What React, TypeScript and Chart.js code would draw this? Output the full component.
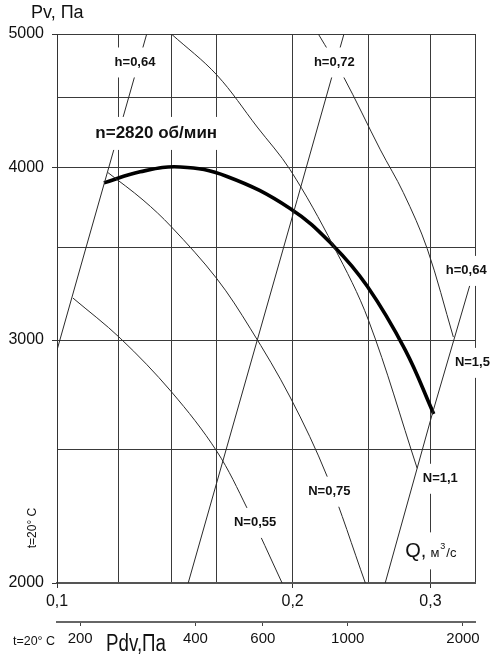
import React, { useEffect, useRef } from 'react';
import { Chart, registerables } from 'chart.js';

Chart.register(...registerables);

const FONT = '"Liberation Sans", Arial, Helvetica, sans-serif';

// ---- axes ----
const qMin = 0.1;
const qMax = 0.342;
const qGridValues = [0.1, 0.12, 0.14, 0.16, 0.2, 0.25, 0.3, 0.342];
const qLabelValues = [0.1, 0.2, 0.3];
const pMin = 2000;
const pMax = 5000;
const pGridValues = [2000, 2500, 3000, 3500, 4000, 4500, 5000];
const pLabelValues = [2000, 3000, 4000, 5000];
const pdvMin = 174;
const pdvMax = 2150;
const pdvTickValues = [200, 400, 600, 1000, 2000];

// ---- fan curve n = 2820 rpm ----
const fanQ = [0.1148, 0.1277, 0.1437, 0.1649, 0.1985, 0.2254, 0.249, 0.2786, 0.3029];
const fanP = [3900, 3973, 4005, 3942, 3737, 3512, 3283, 2950, 2652];

// ---- efficiency lines ----
const h064LeftQ = [0.1, 0.1089, 0.1302];
const h064LeftP = [2950, 3500, 5000];
const h072Q = [0.1471, 0.2027, 0.2326];
const h072P = [2000, 3792, 5000];
const h064RightQ = [0.2626, 0.3024, 0.3375];
const h064RightP = [2000, 2666, 3300];

// ---- power lines ----
const n055Q = [0.1048, 0.1204, 0.14, 0.16, 0.175, 0.1939];
const n055P = [3218, 3010, 2752, 2492, 2265, 2000];
const n075Q = [0.1162, 0.1288, 0.14, 0.16, 0.1765, 0.1985, 0.2214, 0.2477];
const n075P = [3967, 3790, 3624, 3324, 3060, 2728, 2389, 2000];
const n11Q = [0.14, 0.16, 0.1802, 0.1985, 0.2254, 0.25, 0.2885];
const n11P = [5000, 4670, 4281, 3987, 3512, 3101, 2422];
const n15Q = [0.2157, 0.2321, 0.2589, 0.277, 0.2971, 0.3209];
const n15P = [5000, 4660, 4121, 3837, 3495, 3015];

// ---- curve labels ----
const curveLabelText = ['h=0,64', 'h=0,72', 'h=0,64', 'N=1,5', 'N=1,1', 'N=0,75', 'N=0,55'];
const curveLabelQ = [0.1258, 0.2261, 0.3333, 0.3394, 0.3088, 0.2228, 0.1791];
const curveLabelP = [4768, 4768, 3367, 2888, 2380, 2329, 2211];
const speedLabel = 'n=2820 об/мин';
const speedLabelQ = 0.1339;
const speedLabelP = 4239;
const flowLabelQ = 0.2786;
const flowLabelP = 2112;

const yTitle = 'Pv, Па';
const pdvTitle = 'Pdv,Па';
const tempNote = 't=20° C';

const pts = (qs: number[], ps: number[]) => qs.map((q, i) => ({ x: q, y: ps[i] }));

const thin = (data: any, tension: number) => ({
  data,
  showLine: true,
  borderColor: '#2a2a2a',
  borderWidth: 1,
  pointRadius: 0,
  fill: false,
  tension,
});

const annotatePlugin = {
  id: 'annotate',
  afterDatasetsDraw(chart: any) {
    const { ctx, scales } = chart;
    const x = scales.x;
    const y = scales.y;
    ctx.save();
    ctx.textAlign = 'center';
    ctx.textBaseline = 'middle';
    ctx.font = `bold 13px ${FONT}`;
    curveLabelText.forEach((t, i) => {
      const px = x.getPixelForValue(curveLabelQ[i]);
      const py = y.getPixelForValue(curveLabelP[i]);
      const w = ctx.measureText(t).width;
      ctx.fillStyle = '#fff';
      ctx.fillRect(px - w / 2 - 2, py - 15, w + 4, 30);
      ctx.fillStyle = '#111';
      ctx.fillText(t, px, py);
    });
    // speed label
    ctx.font = `bold 17px ${FONT}`;
    {
      const px = x.getPixelForValue(speedLabelQ);
      const py = y.getPixelForValue(speedLabelP);
      const w = ctx.measureText(speedLabel).width;
      ctx.fillStyle = '#fff';
      ctx.fillRect(px - w / 2 - 3, py - 16, w + 6, 33);
      ctx.fillStyle = '#111';
      ctx.fillText(speedLabel, px, py);
    }
    // flow axis label: Q, м3/с
    {
      const px = x.getPixelForValue(flowLabelQ);
      const py = y.getPixelForValue(flowLabelP);
      ctx.fillStyle = '#fff';
      ctx.fillRect(px - 3, py - 18, 62, 37);
      ctx.fillStyle = '#111';
      ctx.textAlign = 'left';
      ctx.textBaseline = 'alphabetic';
      const base = py + 7;
      let cx = px;
      ctx.font = `20px ${FONT}`;
      ctx.fillText('Q,', cx, base);
      cx += ctx.measureText('Q,').width + 4;
      ctx.font = `13px ${FONT}`;
      ctx.fillText('м', cx, base);
      cx += ctx.measureText('м').width + 1;
      ctx.font = `9px ${FONT}`;
      ctx.fillText('3', cx, base - 8);
      cx += ctx.measureText('3').width + 1;
      ctx.font = `13px ${FONT}`;
      ctx.fillText('/с', cx, base);
    }
    ctx.restore();
  },
  afterDraw(chart: any) {
    const { ctx, chartArea } = chart;
    ctx.save();
    ctx.fillStyle = '#111';
    ctx.textAlign = 'left';
    ctx.textBaseline = 'alphabetic';
    ctx.font = `18px ${FONT}`;
    ctx.fillText(yTitle, chartArea.left - 26, chartArea.top - 16);
    // rotated temperature note
    ctx.save();
    ctx.translate(chartArea.left - 24, chartArea.bottom - 55);
    ctx.rotate(-Math.PI / 2);
    ctx.textAlign = 'center';
    ctx.textBaseline = 'middle';
    ctx.font = `12px ${FONT}`;
    ctx.fillText(tempNote, 0, 0);
    ctx.restore();
    // bottom notes
    ctx.font = `13px ${FONT}`;
    ctx.fillText(tempNote, 13, 645, 42);
    ctx.font = `23px ${FONT}`;
    ctx.fillText(pdvTitle, 106, 651, 60);
    ctx.restore();
  },
};

export default function App() {
  const ref = useRef<HTMLCanvasElement>(null);
  useEffect(() => {
    const canvas = ref.current;
    if (!canvas) return;
    Chart.defaults.font.family = FONT;
    const chart = new Chart(canvas, {
      type: 'scatter',
      data: {
        datasets: [
          thin(pts(h064LeftQ, h064LeftP), 0),
          thin(pts(h072Q, h072P), 0),
          thin(pts(h064RightQ, h064RightP), 0),
          thin(pts(n055Q, n055P), 0.35),
          thin(pts(n075Q, n075P), 0.35),
          thin(pts(n11Q, n11P), 0.35),
          thin(pts(n15Q, n15P), 0.35),
          {
            data: pts(fanQ, fanP),
            showLine: true,
            borderColor: '#000',
            borderWidth: 3.6,
            pointRadius: 0,
            fill: false,
            tension: 0.4,
          },
        ],
      } as any,
      options: {
        responsive: false,
        animation: false,
        events: [],
        layout: { padding: { top: 34, right: 25, left: 0, bottom: 0 } },
        plugins: { legend: { display: false }, tooltip: { enabled: false } },
        scales: {
          x: {
            type: 'logarithmic',
            position: 'bottom',
            min: qMin,
            max: qMax,
            weight: 0,
            afterBuildTicks: (s: any) => {
              s.ticks = qGridValues.map((v) => ({ value: v }));
            },
            afterFit: (s: any) => {
              s.height = 39;
            },
            grid: {
              color: '#3a3a3a',
              lineWidth: 1,
              tickLength: 5,
              tickColor: (c: any) => (c.tick && qLabelValues.includes(c.tick.value) ? '#333' : 'rgba(0,0,0,0)'),
            },
            border: { display: true, color: '#555', width: 2 },
            ticks: {
              autoSkip: false,
              maxRotation: 0,
              padding: 4,
              color: '#111',
              font: { size: 16, family: FONT },
              callback: (v: any) => (qLabelValues.includes(v) ? String(v).replace('.', ',') : ''),
            },
          },
          x2: {
            type: 'logarithmic',
            position: 'bottom',
            axis: 'x',
            min: pdvMin,
            max: pdvMax,
            weight: 1,
            afterBuildTicks: (s: any) => {
              s.ticks = pdvTickValues.map((v) => ({ value: v }));
            },
            afterFit: (s: any) => {
              s.height = 35;
            },
            grid: { drawOnChartArea: false, tickLength: 4, color: '#444' },
            border: { display: true, color: '#666', width: 2 },
            ticks: {
              autoSkip: false,
              maxRotation: 0,
              padding: 4,
              color: '#111',
              font: { size: 15, family: FONT },
              callback: (v: any) => String(v),
            },
          },
          y: {
            type: 'logarithmic',
            position: 'left',
            min: pMin,
            max: pMax,
            afterBuildTicks: (s: any) => {
              s.ticks = pGridValues.map((v) => ({ value: v }));
            },
            afterFit: (s: any) => {
              s.width = 57;
            },
            grid: {
              color: '#3a3a3a',
              lineWidth: 1,
              tickLength: 5,
              tickColor: (c: any) => (c.tick && pLabelValues.includes(c.tick.value) ? '#333' : 'rgba(0,0,0,0)'),
            },
            border: { display: true, color: '#333', width: 1 },
            ticks: {
              autoSkip: false,
              padding: 8,
              color: '#111',
              font: { size: 16, family: FONT },
              callback: (v: any) => (pLabelValues.includes(v) ? String(v) : ''),
            },
          },
        },
      } as any,
      plugins: [annotatePlugin],
    });
    return () => chart.destroy();
  }, []);
  return (
    <div style={{ position: 'absolute', left: 0, top: 0, width: 500, height: 657, background: '#fff' }}>
      <canvas ref={ref} width={500} height={657} style={{ display: 'block' }} />
    </div>
  );
}
